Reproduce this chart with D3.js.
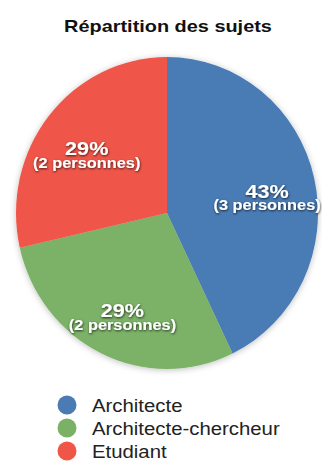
<!DOCTYPE html>
<html>
<head>
<meta charset="utf-8">
<script src="https://cdn.jsdelivr.net/npm/d3@7"></script>
<style>
  html, body { margin: 0; padding: 0; background: #fff; }
  svg { display: block; font-family: "Liberation Sans", Arial, sans-serif; }
</style>
</head>
<body>
<svg id="chart" width="322" height="462"></svg>
<script>
// data
var categories = ["Architecte", "Architecte-chercheur", "Etudiant"];
var counts = [3, 2, 2];
var colors = ["#4a7bb5", "#7bb167", "#ef5648"];
var title = "Répartition des sujets";

var width = 322, height = 462;
var cx = 167, cy = 213;
var rx = 151, ry = 156;
var sx = 1.17; // text in the original is a bit wide

var svg = d3.select("#chart");
var defs = svg.append("defs");

var f = defs.append("filter").attr("id", "pieShadow")
  .attr("x", "-10%").attr("y", "-10%").attr("width", "120%").attr("height", "120%");
f.append("feDropShadow").attr("dx", 0).attr("dy", 1).attr("stdDeviation", 3)
  .attr("flood-color", "#000").attr("flood-opacity", 0.25);

var ts = defs.append("filter").attr("id", "txtShadow")
  .attr("x", "-20%").attr("y", "-30%").attr("width", "140%").attr("height", "160%");
ts.append("feDropShadow").attr("dx", 0.5).attr("dy", 1).attr("stdDeviation", 0.8)
  .attr("flood-color", "#000").attr("flood-opacity", 0.75);

svg.append("text")
  .attr("transform", "translate(168,32) scale(" + sx + ",1)")
  .attr("text-anchor", "middle")
  .style("font-weight", "bold")
  .style("font-size", "17px")
  .attr("fill", "#111")
  .text(title);

var total = d3.sum(counts);
var pie = d3.pie().sort(null).value(function(d) { return d; });
var arcs = pie(counts);

var arc = d3.arc().innerRadius(0).outerRadius(rx);

// pie, slightly stretched vertically like the original
var g = svg.append("g")
  .attr("transform", "translate(" + cx + "," + cy + ") scale(1," + (ry / rx) + ")")
  .attr("filter", "url(#pieShadow)");

g.selectAll("path")
  .data(arcs)
  .enter().append("path")
  .attr("d", arc)
  .attr("fill", function(d, i) { return colors[i]; });

var labelArc = d3.arc().innerRadius(rx * 0.68).outerRadius(rx * 0.68);

var labels = svg.append("g").attr("filter", "url(#txtShadow)")
  .selectAll("g")
  .data(arcs)
  .enter().append("g")
  .attr("transform", function(d) {
    var c = labelArc.centroid(d);
    return "translate(" + (cx + c[0]) + "," + (cy + c[1] * ry / rx) + ")";
  });

labels.append("text")
  .attr("transform", "translate(0,8.5) scale(" + sx + ",1)")
  .attr("text-anchor", "middle")
  .attr("fill", "#fff")
  .style("font-weight", "bold")
  .style("font-size", "18.5px")
  .text(function(d) { return Math.round(d.value / total * 100) + "%"; });

labels.append("text")
  .attr("transform", "translate(0,21) scale(" + sx + ",1)")
  .attr("text-anchor", "middle")
  .attr("fill", "#fff")
  .style("font-weight", "bold")
  .style("font-size", "14px")
  .text(function(d) { return "(" + d.value + " personnes)"; });

// legend
var legend = svg.append("g").selectAll("g")
  .data(categories)
  .enter().append("g")
  .attr("transform", function(d, i) { return "translate(67," + (405 + i * 23) + ")"; });

legend.append("circle")
  .attr("r", 9.5)
  .attr("fill", function(d, i) { return colors[i]; });

legend.append("text")
  .attr("transform", "translate(25,7) scale(1.1,1)")
  .attr("fill", "#222")
  .style("font-size", "18.5px")
  .text(function(d) { return d; });
</script>
</body>
</html>
